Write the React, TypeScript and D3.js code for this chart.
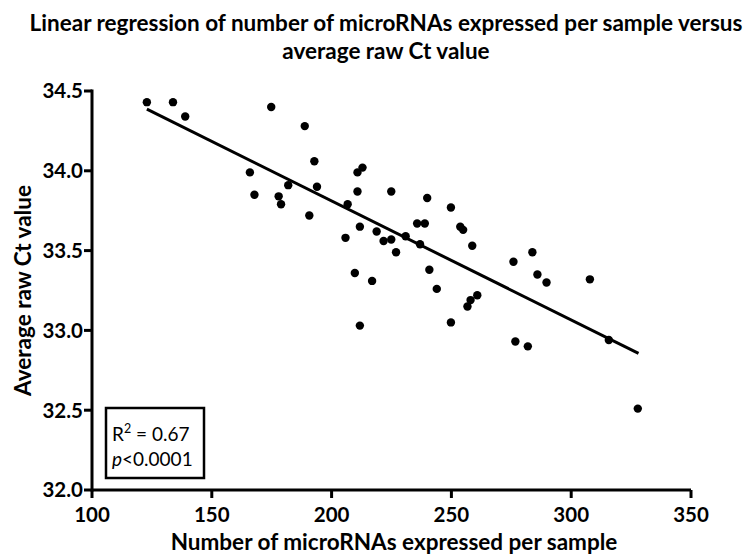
import React from "react";
import * as d3 from "d3";

const xValues = [122.9,133.8,138.9,165.9,167.8,174.8,177.9,178.9,181.9,188.8,190.7,192.8,193.9,205.8,206.7,209.7,210.8,210.8,211.8,211.8,212.9,216.9,218.8,221.7,224.9,224.9,226.9,230.9,235.7,236.9,238.9,239.9,240.8,243.9,249.8,249.8,253.7,254.9,256.7,258.0,258.7,260.8,275.9,276.7,281.9,283.8,285.9,289.7,307.8,315.7,327.8];
const yValues = [34.43,34.43,34.34,33.99,33.85,34.40,33.84,33.79,33.91,34.28,33.72,34.06,33.90,33.58,33.79,33.36,33.99,33.87,33.65,33.03,34.02,33.31,33.62,33.56,33.87,33.57,33.49,33.59,33.67,33.54,33.67,33.83,33.38,33.26,33.77,33.05,33.65,33.63,33.15,33.19,33.53,33.22,33.43,32.93,32.90,33.49,33.35,33.30,33.32,32.94,32.51];
const fitX = [122.9, 328.1];
const fitY = [34.386, 32.856];
const xTicks = [100, 150, 200, 250, 300, 350];
const yTicks = [32.0, 32.5, 33.0, 33.5, 34.0, 34.5];
const titleLines = ["Linear regression of number of microRNAs expressed per sample versus", "average raw Ct value"];
const xTitle = "Number of microRNAs expressed per sample";
const yTitle = "Average raw Ct value";

const FONT = "Lato, 'Open Sans', sans-serif";

export default function App() {
  const W = 745, H = 560;
  const x = d3.scaleLinear().domain([100, 350]).range([92, 691]);
  const y = d3.scaleLinear().domain([32, 34.5]).range([490, 91]);
  const line = d3.line<[number, number]>().x(d => x(d[0])).y(d => y(d[1]));
  const fit: [number, number][] = fitX.map((v, i) => [v, fitY[i]]);
  return (
    <svg width={W} height={H} style={{ position: "absolute", left: 0, top: 0, background: "#fff" }} fontFamily={FONT}>
      <rect width={W} height={H} fill="#fff" />
      {titleLines.map((t, i) => (
        <text key={i} x={386} y={31 + i * 28} textAnchor="middle" fontWeight="bold" fontSize={22.5}>{t}</text>
      ))}
      {/* axes */}
      <line x1={x(100)} x2={x(350)} y1={y(32)} y2={y(32)} stroke="#000" strokeWidth={3} />
      <line x1={x(100)} x2={x(100)} y1={y(32) + 1.5} y2={y(34.5) - 1.5} stroke="#000" strokeWidth={3} />
      {yTicks.map(t => (
        <g key={t}>
          <line x1={x(100) - 8} x2={x(100)} y1={y(t)} y2={y(t)} stroke="#000" strokeWidth={3} />
          <text x={83} y={y(t)} dy="0.36em" textAnchor="end" fontWeight="bold" fontSize={20.5}>{t.toFixed(1)}</text>
        </g>
      ))}
      {xTicks.map(t => (
        <g key={t}>
          <line x1={x(t)} x2={x(t)} y1={y(32)} y2={y(32) + 8} stroke="#000" strokeWidth={3} />
          <text x={x(t)} y={522} textAnchor="middle" fontWeight="bold" fontSize={20.5}>{t}</text>
        </g>
      ))}
      <text x={394} y={550} textAnchor="middle" fontWeight="bold" fontSize={22.5}>{xTitle}</text>
      <text transform={`translate(31, ${(y(32) + y(34.5)) / 2}) rotate(-90)`} textAnchor="middle" fontWeight="bold" fontSize={22.5}>{yTitle}</text>
      {/* fit line */}
      <path d={line(fit) || ""} stroke="#000" strokeWidth={3} fill="none" />
      {xValues.map((v, i) => (
        <circle key={i} cx={x(v)} cy={y(yValues[i])} r={4.2} fill="#000" />
      ))}
      {/* stats box */}
      <rect x={106} y={408} width={98} height={70} fill="#fff" stroke="#000" strokeWidth={2.5} />
      <text x={112} y={441} fontSize={19}>R<tspan dy={-8} fontSize={12.5}>2</tspan><tspan dy={8}> = 0.67</tspan></text>
      <text x={112} y={466} fontSize={19}><tspan fontStyle="italic">p</tspan>&lt;0.0001</text>
    </svg>
  );
}
